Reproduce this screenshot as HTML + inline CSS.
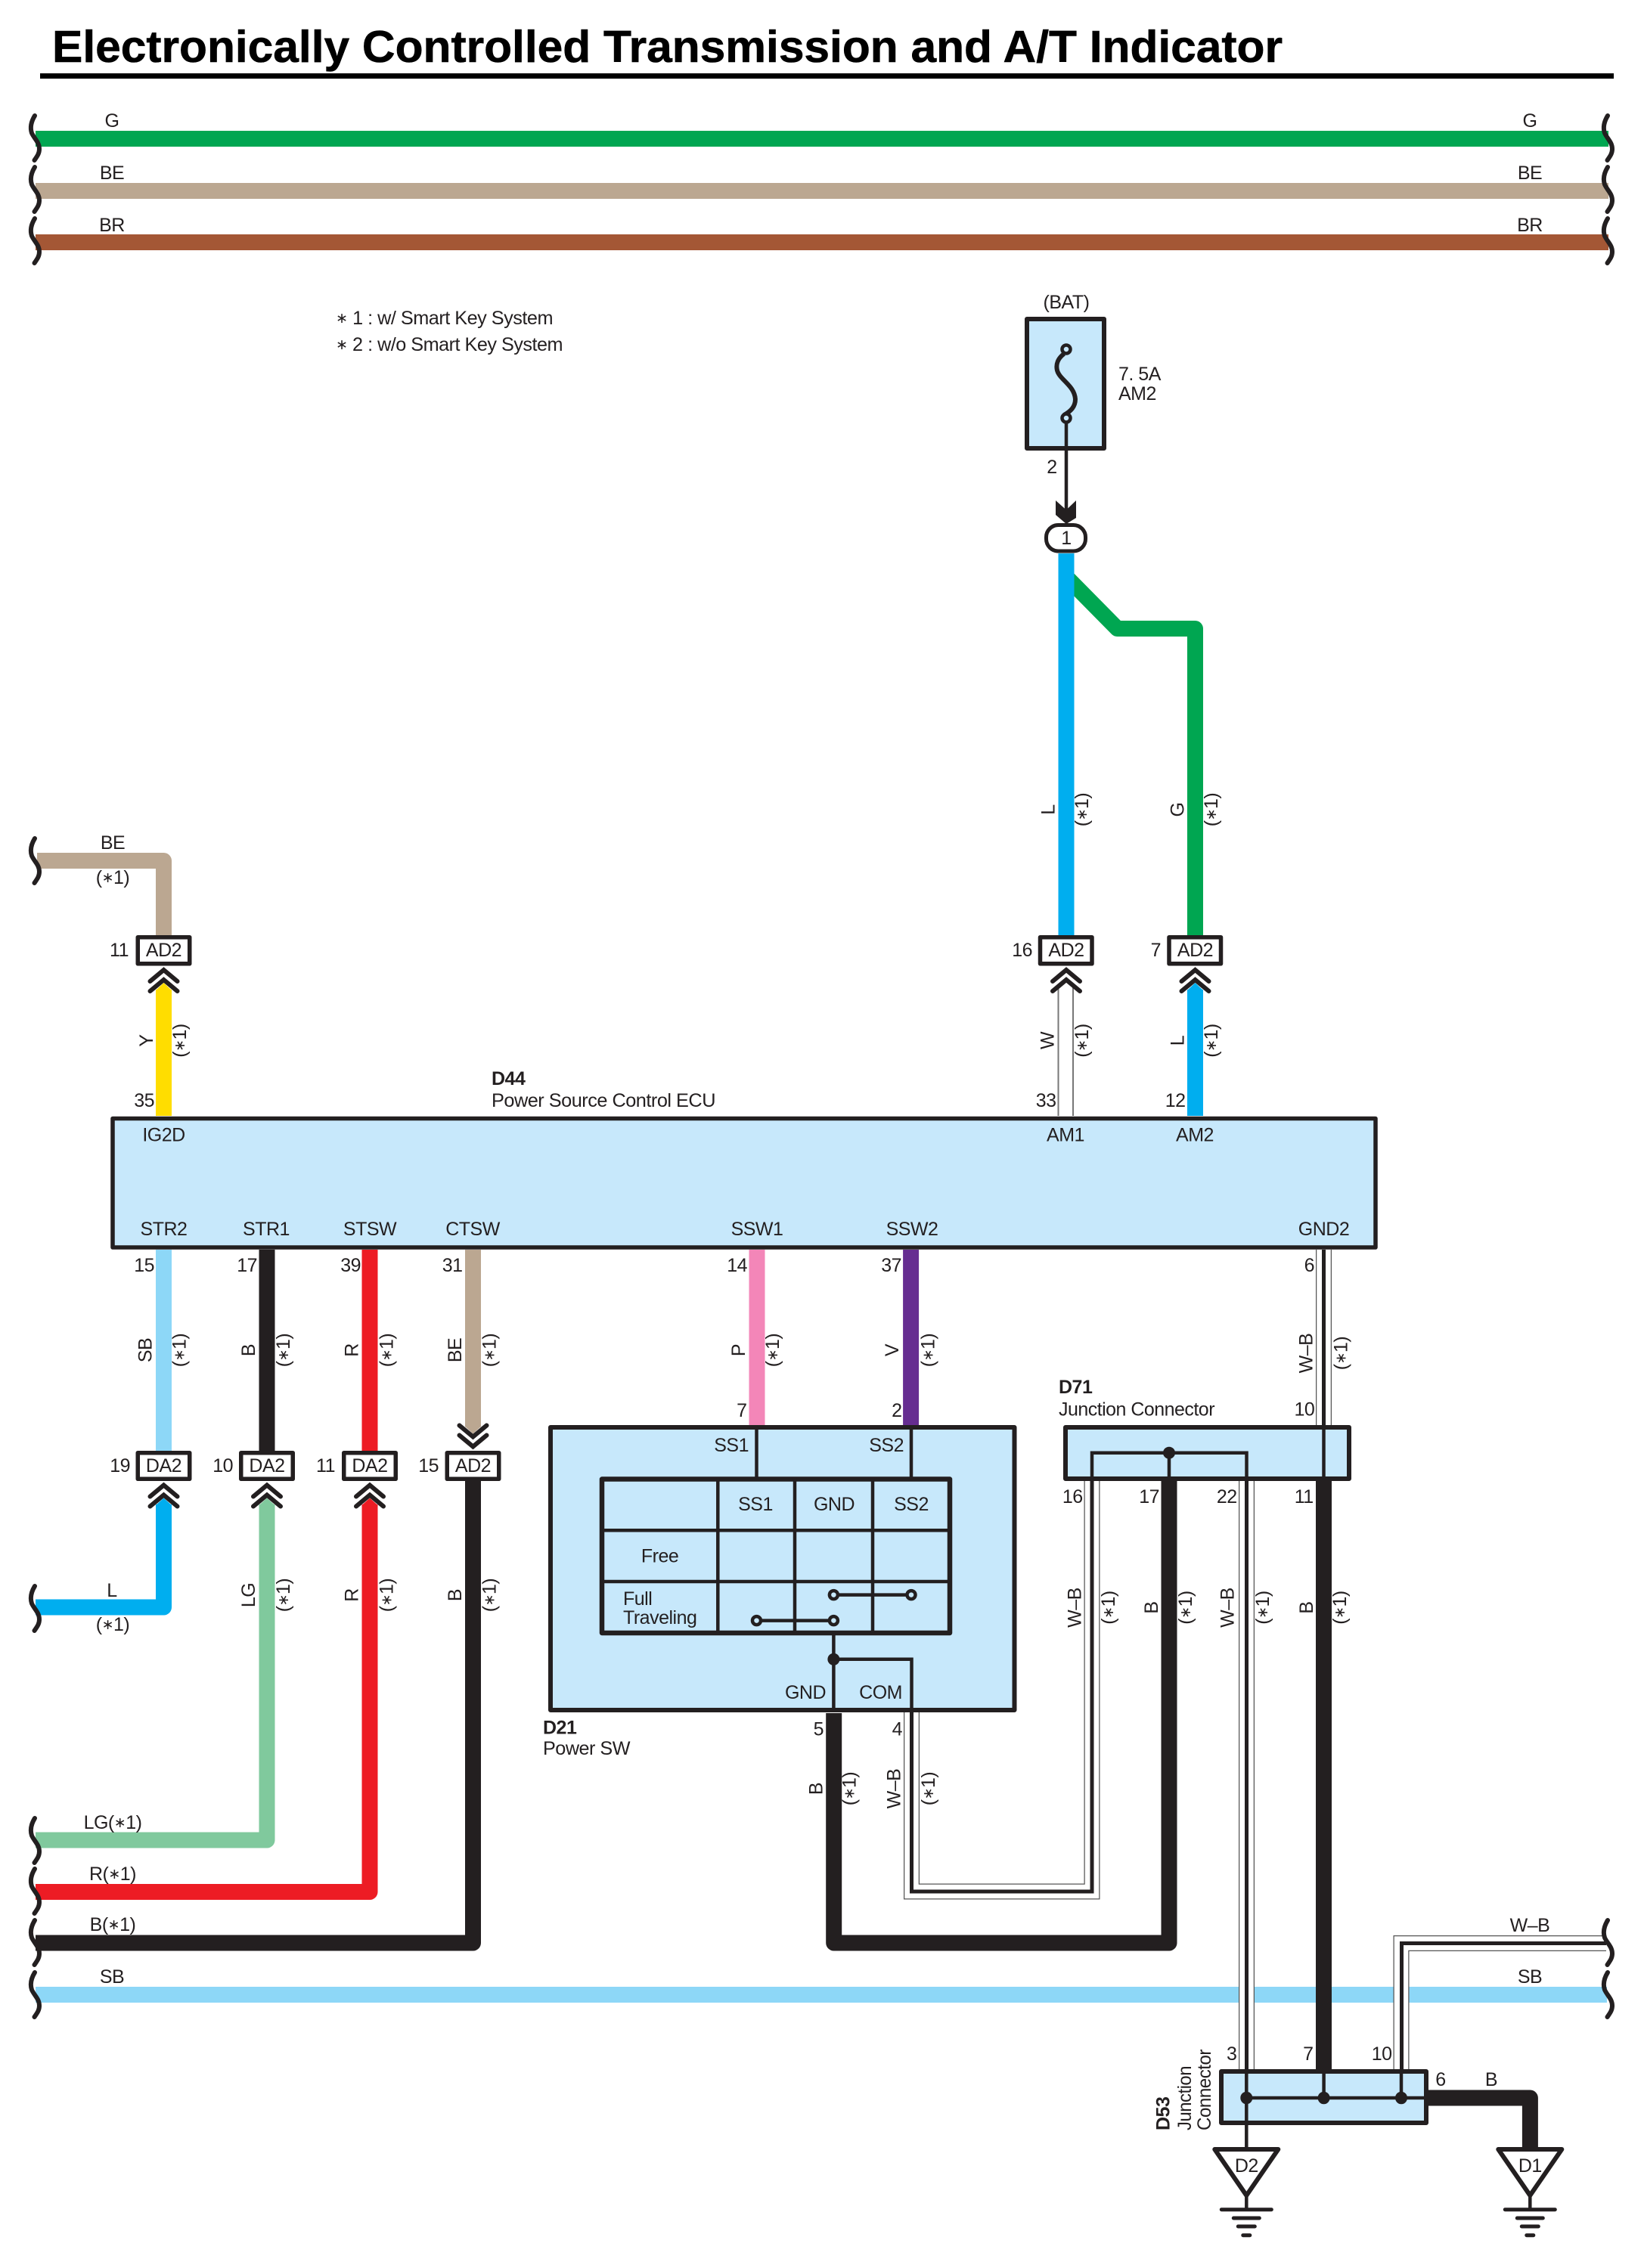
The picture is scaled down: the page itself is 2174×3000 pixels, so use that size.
<!DOCTYPE html>
<html><head><meta charset="utf-8"><title>Electronically Controlled Transmission and A/T Indicator</title>
<style>
html,body{margin:0;padding:0;background:#fff}
svg{display:block}
text{font-family:"Liberation Sans",sans-serif;font-size:25px;letter-spacing:-.5px;fill:#231f20}
.m{text-anchor:middle}.e{text-anchor:end}.b{font-weight:bold}
.a{font-size:19px;baseline-shift:2.5px}
</style></head><body>
<svg xmlns="http://www.w3.org/2000/svg" width="2174" height="3000" viewBox="0 0 2174 3000">
<defs>
<path id="sq" d="M46 3C40.500 12 40 20 42 26C45 33 52 38 52 47C52 54 48 58 45.500 62" fill="none" stroke="#231f20" stroke-width="6" stroke-linecap="round"/>
<g id="ch" fill="none" stroke="#231f20" stroke-width="6" stroke-linecap="round" stroke-linejoin="miter">
<polyline points="-18,20.500 0,5.500 18,20.500"/><polyline points="-18,33.500 0,18.500 18,33.500"/>
</g>
<g id="gnd" stroke="#231f20" stroke-width="5" stroke-linecap="round" fill="none">
<line x1="0" y1="62" x2="0" y2="82" stroke-width="4.500" stroke-linecap="butt"/>
<line x1="-33" y1="82.700" x2="33" y2="82.700"/><line x1="-17" y1="94" x2="17" y2="94"/><line x1="-11" y1="105" x2="11" y2="105"/><line x1="-4.500" y1="116.700" x2="4.500" y2="116.700"/>
<polygon points="-42,3 42,3 0,64" fill="#fff" stroke-width="6" stroke-linejoin="round"/>
</g>
</defs>

<text class="b" x="69" y="82" style="font-size:59px;letter-spacing:0;fill:#000;stroke:#000;stroke-width:.6px" textLength="1627" lengthAdjust="spacingAndGlyphs">Electronically Controlled Transmission and A/T Indicator</text>
<rect x="53" y="97" width="2081" height="7" fill="#000"/>

<!-- top bus wires -->
<g fill="none" stroke-width="21" stroke-linejoin="round">
<line x1="47" y1="183.500" x2="2127" y2="183.500" stroke="#00a651"/>
<line x1="47" y1="252.500" x2="2127" y2="252.500" stroke="#bba791"/>
<line x1="47" y1="320.500" x2="2127" y2="320.500" stroke="#a45735"/>
<line x1="47" y1="2638.500" x2="2125" y2="2638.500" stroke="#8dd7f7"/>
<polyline points="49,1138.500 216.500,1138.500 216.500,1237" stroke="#bba791"/>
<polyline points="1408,761 1477.500,831.500 1580.500,831.500 1580.500,1237" stroke="#00a651"/>
<line x1="1410" y1="732" x2="1410" y2="1237" stroke="#00aeef"/>
<!-- upper stubs -->
<line x1="216.500" y1="1476" x2="216.500" y2="1309" stroke="#ffdd00"/>
<line x1="1580.500" y1="1476" x2="1580.500" y2="1309" stroke="#00aeef"/>
<!-- ECU to lower connectors -->
<line x1="216.500" y1="1653" x2="216.500" y2="1919" stroke="#8dd7f7"/>
<line x1="353" y1="1653" x2="353" y2="1919" stroke="#231f20"/>
<line x1="489" y1="1653" x2="489" y2="1919" stroke="#ed1c24"/>
<line x1="625.500" y1="1653" x2="625.500" y2="1887.500" stroke="#bba791"/>
<line x1="1001" y1="1653" x2="1001" y2="1885" stroke="#f386b8"/>
<line x1="1204.600" y1="1653" x2="1204.600" y2="1885" stroke="#662d91"/>
<!-- lower -->
<polyline points="47,2126 216.500,2126 216.500,1990" stroke="#00aeef"/>
<polyline points="47,2434 353,2434 353,1990" stroke="#80c99d"/>
<polyline points="47,2502.500 489,2502.500 489,1990" stroke="#ed1c24"/>
<polyline points="47,2570 625.500,2570 625.500,1959" stroke="#231f20"/>
</g>
<!-- arrow tips -->
<polygon points="206,1310 216.500,1300 227,1310" fill="#ffdd00"/>
<polygon points="1570,1310 1580.500,1300 1591,1310" fill="#00aeef"/>
<polygon points="206,1991 216.500,1981.500 227,1991" fill="#00aeef"/>
<polygon points="342.500,1991 353,1981.500 363.500,1991" fill="#80c99d"/>
<polygon points="478.500,1991 489,1981.500 499.500,1991" fill="#ed1c24"/>
<polygon points="615,1887 625.500,1896.500 636,1887" fill="#bba791"/>

<!-- W wire AM1 -->
<g stroke="#777" stroke-width="2"><line x1="1399.500" y1="1302" x2="1399.500" y2="1476"/><line x1="1419" y1="1302" x2="1419" y2="1476"/></g>

<!-- W-B wires -->
<g fill="none" stroke-linejoin="miter">
<g stroke="#555" stroke-width="21">
<line x1="1750.500" y1="1653" x2="1750.500" y2="1885"/>
<polyline points="1205.500,2265 1205.500,2502 1444,2502 1444,1959"/>
<line x1="1648.500" y1="1959" x2="1648.500" y2="2737"/>
<polyline points="1853,2737 1853,2570.500 2124,2570.500"/>
</g>
<g stroke="#fff" stroke-width="18.500">
<line x1="1750.500" y1="1653" x2="1750.500" y2="1885"/>
<polyline points="1205.500,2265 1205.500,2502 1444,2502 1444,1959"/>
<line x1="1648.500" y1="1959" x2="1648.500" y2="2737"/>
<polyline points="1853,2737 1853,2570.500 2124,2570.500"/>
</g>
<g stroke="#231f20" stroke-width="5">
<line x1="1750.500" y1="1653" x2="1750.500" y2="1885"/>
<polyline points="1205.500,2265 1205.500,2502 1444,2502 1444,1959"/>
<line x1="1648.500" y1="1959" x2="1648.500" y2="2737"/>
<polyline points="1853.500,2737 1853.500,2570.500 2124,2570.500"/>
</g>
</g>
<!-- thick black wires -->
<g fill="none" stroke="#231f20" stroke-width="21" stroke-linejoin="round">
<polyline points="1102.700,2266 1102.700,2570 1546,2570 1546,1959"/>
<line x1="1750.500" y1="1959" x2="1750.500" y2="2740"/>
<polyline points="1889,2775 2023.400,2775 2023.400,2842"/>
</g>

<!-- squiggles -->
<use href="#sq" y="150"/><use href="#sq" y="218"/><use href="#sq" y="286"/>
<use href="#sq" x="2080" y="150"/><use href="#sq" x="2080" y="218"/><use href="#sq" x="2080" y="286"/>
<use href="#sq" y="1106"/><use href="#sq" y="2095"/>
<use href="#sq" y="2402"/><use href="#sq" y="2469"/><use href="#sq" y="2537"/><use href="#sq" y="2606"/>
<use href="#sq" x="2080" y="2537"/><use href="#sq" x="2080" y="2606"/>

<!-- fuse -->
<rect x="1358" y="422" width="102" height="171" fill="#c7e8fb" stroke="#231f20" stroke-width="6" stroke-linejoin="round"/>
<path d="M1407 468C1399 474 1396 482 1398 490C1401 502 1421 510 1422 528C1422 538 1416 544 1407 549" fill="none" stroke="#231f20" stroke-width="6"/>
<circle cx="1410" cy="462" r="5.500" fill="#c7e8fb" stroke="#231f20" stroke-width="4.500"/>
<circle cx="1410" cy="553" r="5.500" fill="#c7e8fb" stroke="#231f20" stroke-width="4.500"/>
<line x1="1410" y1="559" x2="1410" y2="683" stroke="#231f20" stroke-width="4.500"/>
<polygon points="1396,662 1410,674.500 1423,662 1423,685 1410,693 1396,681" fill="#231f20"/>
<rect x="1383.500" y="694.500" width="52" height="34.500" rx="16" fill="#fff" stroke="#231f20" stroke-width="5"/>
<text class="m" x="1410" y="408">(BAT)</text>
<text x="1479" y="503">7. 5A</text><text x="1479" y="529">AM2</text>
<text class="m" x="1391" y="626">2</text>
<text class="m" x="1410" y="720">1</text>

<!-- ECU -->
<rect x="149" y="1479.500" width="1670" height="170.500" fill="#c7e8fb" stroke="#231f20" stroke-width="5.500" stroke-linejoin="round"/>
<text class="b" x="650" y="1435">D44</text>
<text x="650" y="1464" textLength="296" lengthAdjust="spacingAndGlyphs">Power Source Control ECU</text>
<text class="m" x="216.500" y="1509.500">IG2D</text>
<text class="m" x="1409" y="1509.500">AM1</text>
<text class="m" x="1580" y="1509.500">AM2</text>
<text class="m" x="216.500" y="1634">STR2</text>
<text class="m" x="352" y="1634">STR1</text>
<text class="m" x="489" y="1634">STSW</text>
<text class="m" x="625" y="1634">CTSW</text>
<text class="m" x="1001" y="1634">SSW1</text>
<text class="m" x="1206" y="1634">SSW2</text>
<text class="m" x="1750.500" y="1634">GND2</text>

<!-- connectors -->
<g fill="#fff" stroke="#231f20" stroke-width="5.500" stroke-linejoin="round">
<rect x="182.250" y="1239.750" width="68.500" height="35"/>
<rect x="1375.500" y="1239.750" width="68.500" height="35"/>
<rect x="1546" y="1239.750" width="68.500" height="35"/>
<rect x="182.250" y="1921.750" width="68.500" height="34.500"/>
<rect x="318.750" y="1921.750" width="68.500" height="34.500"/>
<rect x="454.750" y="1921.750" width="68.500" height="34.500"/>
<rect x="591.250" y="1921.750" width="68.500" height="34.500"/>
</g>
<use href="#ch" transform="translate(216.500,1277.500)"/>
<use href="#ch" transform="translate(1410,1277.500)"/>
<use href="#ch" transform="translate(1580.500,1277.500)"/>
<use href="#ch" transform="translate(216.500,1959)"/>
<use href="#ch" transform="translate(353,1959)"/>
<use href="#ch" transform="translate(489,1959)"/>
<use href="#ch" transform="translate(625.500,1919) scale(1,-1)"/>
<text class="m" x="216.500" y="1265">AD2</text><text class="m" x="1410" y="1265">AD2</text><text class="m" x="1580.500" y="1265">AD2</text>
<text class="m" x="216.500" y="1947">DA2</text><text class="m" x="353" y="1947">DA2</text><text class="m" x="489" y="1947">DA2</text><text class="m" x="625.500" y="1947">AD2</text>
<text class="e" x="170" y="1265">11</text><text class="e" x="1365" y="1265">16</text><text class="e" x="1535" y="1265">7</text>
<text class="e" x="172" y="1947">19</text><text class="e" x="308" y="1947">10</text><text class="e" x="443" y="1947">11</text><text class="e" x="580" y="1947">15</text>

<!-- bus labels -->
<text class="m" x="148" y="168">G</text><text class="m" x="148" y="237">BE</text><text class="m" x="148" y="306">BR</text>
<text class="m" x="2023" y="168">G</text><text class="m" x="2023" y="237">BE</text><text class="m" x="2023" y="306">BR</text>
<text x="444" y="429" textLength="287" lengthAdjust="spacingAndGlyphs"><tspan class="a">∗</tspan> 1 : w/ Smart Key System</text>
<text x="444" y="464" textLength="300" lengthAdjust="spacingAndGlyphs"><tspan class="a">∗</tspan> 2 : w/o Smart Key System</text>
<text class="m" x="149" y="1123">BE</text><text class="m" x="149" y="1169">(<tspan class="a">∗</tspan>1)</text>
<text class="m" x="148" y="2112">L</text><text class="m" x="149" y="2157">(<tspan class="a">∗</tspan>1)</text>
<text class="m" x="149" y="2419">LG(<tspan class="a">∗</tspan>1)</text><text class="m" x="149" y="2487">R(<tspan class="a">∗</tspan>1)</text><text class="m" x="149" y="2554">B(<tspan class="a">∗</tspan>1)</text><text class="m" x="148" y="2623">SB</text>
<text class="m" x="2023" y="2555">W–B</text><text class="m" x="2023" y="2623">SB</text>

<!-- pin numbers -->
<text class="e" x="204" y="1464">35</text><text class="e" x="1396.500" y="1464">33</text><text class="e" x="1567.500" y="1464">12</text>
<text class="e" x="204" y="1682">15</text><text class="e" x="340" y="1682">17</text><text class="e" x="477" y="1682">39</text><text class="e" x="611.500" y="1682">31</text>
<text class="e" x="988" y="1682">14</text><text class="e" x="1192" y="1682">37</text><text class="e" x="1738" y="1682">6</text>
<text class="e" x="987.500" y="1874">7</text><text class="e" x="1192.500" y="1874">2</text><text class="e" x="1738.300" y="1872.700">10</text>
<text class="e" x="1089" y="2295.500">5</text><text class="e" x="1193" y="2295.500">4</text>
<text class="e" x="1431.700" y="1988">16</text><text class="e" x="1533" y="1988">17</text><text class="e" x="1635.700" y="1988">22</text><text class="e" x="1736.700" y="1988">11</text>
<text class="e" x="1635.400" y="2725">3</text><text class="e" x="1736.500" y="2725">7</text><text class="e" x="1840.500" y="2725">10</text>
<text class="m" x="1905" y="2759">6</text><text class="m" x="1972" y="2759">B</text>

<!-- rotated wire labels -->
<text class="m" transform="translate(1394.500,1071) rotate(-90)">L</text><text class="m" transform="translate(1439,1071) rotate(-90)">(<tspan class="a">∗</tspan>1)</text>
<text class="m" transform="translate(1565.500,1071) rotate(-90)">G</text><text class="m" transform="translate(1610,1071) rotate(-90)">(<tspan class="a">∗</tspan>1)</text>
<text class="m" transform="translate(202,1376.500) rotate(-90)">Y</text><text class="m" transform="translate(246,1376.500) rotate(-90)">(<tspan class="a">∗</tspan>1)</text>
<text class="m" transform="translate(1393.500,1376.500) rotate(-90)">W</text><text class="m" transform="translate(1439,1376.500) rotate(-90)">(<tspan class="a">∗</tspan>1)</text>
<text class="m" transform="translate(1565.500,1376.500) rotate(-90)">L</text><text class="m" transform="translate(1610,1376.500) rotate(-90)">(<tspan class="a">∗</tspan>1)</text>
<text class="m" transform="translate(200.500,1786) rotate(-90)">SB</text><text class="m" transform="translate(245.500,1786) rotate(-90)">(<tspan class="a">∗</tspan>1)</text>
<text class="m" transform="translate(337,1786) rotate(-90)">B</text><text class="m" transform="translate(383,1786) rotate(-90)">(<tspan class="a">∗</tspan>1)</text>
<text class="m" transform="translate(473.500,1786) rotate(-90)">R</text><text class="m" transform="translate(519.500,1786) rotate(-90)">(<tspan class="a">∗</tspan>1)</text>
<text class="m" transform="translate(610,1786) rotate(-90)">BE</text><text class="m" transform="translate(655.500,1786) rotate(-90)">(<tspan class="a">∗</tspan>1)</text>
<text class="m" transform="translate(985,1786) rotate(-90)">P</text><text class="m" transform="translate(1030,1786) rotate(-90)">(<tspan class="a">∗</tspan>1)</text>
<text class="m" transform="translate(1188,1786) rotate(-90)">V</text><text class="m" transform="translate(1235.500,1786) rotate(-90)">(<tspan class="a">∗</tspan>1)</text>
<text class="m" transform="translate(1735.500,1790) rotate(-90)">W–B</text><text class="m" transform="translate(1781.500,1790) rotate(-90)">(<tspan class="a">∗</tspan>1)</text>
<text class="m" transform="translate(337,2110) rotate(-90)">LG</text><text class="m" transform="translate(383,2110) rotate(-90)">(<tspan class="a">∗</tspan>1)</text>
<text class="m" transform="translate(473.500,2110) rotate(-90)">R</text><text class="m" transform="translate(519.500,2110) rotate(-90)">(<tspan class="a">∗</tspan>1)</text>
<text class="m" transform="translate(610,2110) rotate(-90)">B</text><text class="m" transform="translate(655.500,2110) rotate(-90)">(<tspan class="a">∗</tspan>1)</text>
<text class="m" transform="translate(1429.300,2126.500) rotate(-90)">W–B</text><text class="m" transform="translate(1474,2126.500) rotate(-90)">(<tspan class="a">∗</tspan>1)</text>
<text class="m" transform="translate(1531,2126.500) rotate(-90)">B</text><text class="m" transform="translate(1576,2126.500) rotate(-90)">(<tspan class="a">∗</tspan>1)</text>
<text class="m" transform="translate(1631.500,2126.500) rotate(-90)">W–B</text><text class="m" transform="translate(1678,2126.500) rotate(-90)">(<tspan class="a">∗</tspan>1)</text>
<text class="m" transform="translate(1736,2126.500) rotate(-90)">B</text><text class="m" transform="translate(1780,2126.500) rotate(-90)">(<tspan class="a">∗</tspan>1)</text>
<text class="m" transform="translate(1087.500,2366) rotate(-90)">B</text><text class="m" transform="translate(1131.500,2366) rotate(-90)">(<tspan class="a">∗</tspan>1)</text>
<text class="m" transform="translate(1190.600,2366) rotate(-90)">W–B</text><text class="m" transform="translate(1236,2366) rotate(-90)">(<tspan class="a">∗</tspan>1)</text>

<!-- D21 -->
<rect x="728" y="1888" width="613.500" height="374" fill="#c7e8fb" stroke="#231f20" stroke-width="6" stroke-linejoin="round"/>
<g stroke="#231f20" stroke-width="4.500" fill="none">
<line x1="1000.500" y1="1888" x2="1000.500" y2="1956"/>
<line x1="1205" y1="1888" x2="1205" y2="1956"/>
<rect x="796" y="1956.500" width="460" height="203.500" stroke-width="6.500" stroke-linejoin="round"/>
<line x1="949.300" y1="1956" x2="949.300" y2="2160"/><line x1="1051" y1="1956" x2="1051" y2="2160"/><line x1="1154" y1="1956" x2="1154" y2="2160"/>
<line x1="796" y1="2024.300" x2="1256" y2="2024.300"/><line x1="796" y1="2092" x2="1256" y2="2092"/>
<line x1="1102.400" y1="2109.600" x2="1205" y2="2109.600"/><line x1="1000.500" y1="2143.600" x2="1102.400" y2="2143.600"/>
<line x1="1102.400" y1="2160" x2="1102.400" y2="2262"/>
<polyline points="1102.400,2194.800 1205.500,2194.800 1205.500,2265"/>
<g fill="#c7e8fb" stroke-width="4.500"><circle cx="1102.400" cy="2109.600" r="5.500"/><circle cx="1205" cy="2109.600" r="5.500"/><circle cx="1000.500" cy="2143.600" r="5.500"/><circle cx="1102.400" cy="2143.600" r="5.500"/></g>
</g>
<circle cx="1102.400" cy="2194.800" r="8" fill="#231f20"/>
<text class="e" x="990" y="1920">SS1</text><text class="e" x="1195" y="1920">SS2</text>
<text class="m" x="999" y="1998">SS1</text><text class="m" x="1103" y="1998">GND</text><text class="m" x="1205" y="1998">SS2</text>
<text class="m" x="872.600" y="2066.400">Free</text>
<text x="824" y="2123">Full</text><text x="824" y="2148">Traveling</text>
<text class="e" x="1092" y="2247">GND</text><text class="e" x="1193" y="2247">COM</text>
<text class="b" x="718" y="2293.700">D21</text><text x="718" y="2321" textLength="115" lengthAdjust="spacingAndGlyphs">Power SW</text>

<!-- D71 -->
<rect x="1409" y="1888" width="375" height="68" fill="#c7e8fb" stroke="#231f20" stroke-width="6" stroke-linejoin="round"/>
<g stroke="#231f20" stroke-width="4.500" fill="none">
<polyline points="1444,1958 1444,1921.700 1648.500,1921.700 1648.500,1958"/>
<line x1="1546" y1="1921.700" x2="1546" y2="1958"/>
<line x1="1750.500" y1="1888" x2="1750.500" y2="1956"/>
</g>
<circle cx="1546" cy="1921.700" r="8" fill="#231f20"/>
<text class="b" x="1400" y="1843">D71</text>
<text x="1400" y="1872.700" textLength="206" lengthAdjust="spacingAndGlyphs">Junction Connector</text>

<!-- D53 -->
<rect x="1615" y="2740" width="271" height="68" fill="#c7e8fb" stroke="#231f20" stroke-width="6" stroke-linejoin="round"/>
<g stroke="#231f20" stroke-width="4.500" fill="none">
<line x1="1648.300" y1="2737" x2="1648.300" y2="2842"/>
<line x1="1750.600" y1="2742" x2="1750.600" y2="2775"/>
<line x1="1853" y1="2737" x2="1853" y2="2775"/>
<line x1="1648.300" y1="2775" x2="1886" y2="2775"/>
</g>
<g fill="#231f20"><ellipse cx="1648.300" cy="2775" rx="8" ry="8.300"/><ellipse cx="1750.600" cy="2775" rx="8" ry="8.300"/><ellipse cx="1853" cy="2775" rx="8" ry="8.300"/></g>
<text class="b" transform="translate(1546.400,2818) rotate(-90)">D53</text>
<text transform="translate(1575,2818) rotate(-90)" textLength="85" lengthAdjust="spacingAndGlyphs">Junction</text>
<text transform="translate(1601,2818) rotate(-90)" textLength="107" lengthAdjust="spacingAndGlyphs">Connector</text>

<!-- grounds -->
<use href="#gnd" transform="translate(1648.300,2840)"/>
<use href="#gnd" transform="translate(2023.300,2840)"/>
<text class="m" x="1648.300" y="2873">D2</text>
<text class="m" x="2023.300" y="2873">D1</text>
</svg>
</body></html>
